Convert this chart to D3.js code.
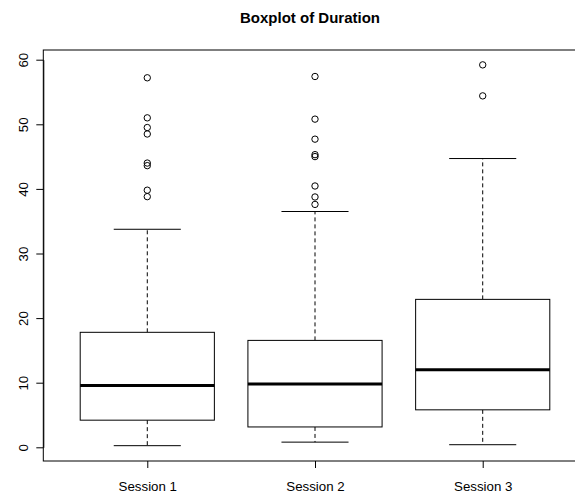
<!DOCTYPE html>
<html>
<head>
<meta charset="utf-8">
<script src="https://cdn.jsdelivr.net/npm/d3@7"></script>
<style>
  body { margin: 0; background: #fff; }
  text { font-family: "Liberation Sans", Arial, sans-serif; }
</style>
</head>
<body>
<div id="chart"></div>
<script>
// values
var sessions = ["Session 1", "Session 2", "Session 3"];
var lowWhisker = [0.25, 0.8, 0.4];
var q1 = [4.2, 3.15, 5.8];
var median = [9.55, 9.8, 12.0];
var q3 = [17.8, 16.55, 22.9];
var highWhisker = [33.75, 36.5, 44.7];
var outliers = [
  [57.2, 51.0, 49.5, 48.5, 44.0, 43.6, 39.8, 38.8],
  [57.4, 50.8, 47.7, 45.3, 45.0, 40.45, 38.75, 37.6],
  [59.2, 54.4]
];
var yTicks = [0, 10, 20, 30, 40, 50, 60];

var svgWidth = 575;
var svgHeight = 495;

var svg = d3.select("#chart")
  .append("svg")
  .attr("width", svgWidth)
  .attr("height", svgHeight);

// plot region (R style: xlim 0.5..3.5 with 4% extension)
var plotLeft = 43.3, plotRight = 586.7, plotTop = 50, plotBottom = 461;

var x = d3.scaleLinear()
  .domain([0.38, 3.62])
  .range([plotLeft, plotRight]);

var y = d3.scaleLinear()
  .domain([0, 60])
  .range([447.3, 59.7]);

var boxHalf = 0.4;
var capHalf = 0.2;

var g = svg.append("g");

sessions.forEach(function(s, i) {
  var cx = i + 1;

  // whiskers
  g.append("line")
    .attr("x1", x(cx)).attr("x2", x(cx))
    .attr("y1", y(q3[i])).attr("y2", y(highWhisker[i]))
    .attr("stroke", "#000").attr("stroke-dasharray", "4,3");
  g.append("line")
    .attr("x1", x(cx)).attr("x2", x(cx))
    .attr("y1", y(q1[i])).attr("y2", y(lowWhisker[i]))
    .attr("stroke", "#000").attr("stroke-dasharray", "4,3");

  // caps
  [lowWhisker[i], highWhisker[i]].forEach(function(v) {
    g.append("line")
      .attr("x1", x(cx - capHalf)).attr("x2", x(cx + capHalf))
      .attr("y1", y(v)).attr("y2", y(v))
      .attr("stroke", "#000");
  });

  // box
  g.append("rect")
    .attr("x", x(cx - boxHalf))
    .attr("y", y(q3[i]))
    .attr("width", x(cx + boxHalf) - x(cx - boxHalf))
    .attr("height", y(q1[i]) - y(q3[i]))
    .attr("fill", "#fff")
    .attr("stroke", "#000");

  // median
  g.append("line")
    .attr("x1", x(cx - boxHalf)).attr("x2", x(cx + boxHalf))
    .attr("y1", y(median[i])).attr("y2", y(median[i]))
    .attr("stroke", "#000").attr("stroke-width", 3);

  // outliers
  g.selectAll(".out" + i)
    .data(outliers[i])
    .enter()
    .append("circle")
    .attr("cx", x(cx))
    .attr("cy", d => y(d))
    .attr("r", 3.2)
    .attr("fill", "none")
    .attr("stroke", "#000");
});

// frame
svg.append("rect")
  .attr("x", plotLeft).attr("y", plotTop)
  .attr("width", plotRight - plotLeft)
  .attr("height", plotBottom - plotTop)
  .attr("fill", "none")
  .attr("stroke", "#000");

// y axis
var yAxis = svg.append("g")
  .attr("transform", `translate(${plotLeft}, 0)`)
  .call(d3.axisLeft(y).tickValues(yTicks).tickSize(7).tickSizeOuter(0));
yAxis.selectAll("text")
  .attr("transform", "rotate(-90)")
  .attr("x", 0)
  .attr("y", -15.5)
  .attr("dy", 0)
  .attr("text-anchor", "middle")
  .attr("font-size", "13.3px")
  .attr("fill", "#000");

// x axis
var xAxis = svg.append("g")
  .attr("transform", `translate(0, ${plotBottom})`)
  .call(d3.axisBottom(x).tickValues([1, 2, 3]).tickSize(7).tickSizeOuter(0)
    .tickFormat((d, i) => sessions[i]));
xAxis.select(".domain").remove();
xAxis.selectAll("text")
  .attr("y", 30)
  .attr("dy", 0)
  .attr("font-size", "13.3px")
  .attr("fill", "#000");

svg.selectAll(".tick line").attr("stroke", "#000");
svg.selectAll(".domain").attr("stroke", "#000");

// title
svg.append("text")
  .attr("x", 310)
  .attr("y", 23)
  .attr("text-anchor", "middle")
  .attr("font-size", "15px")
  .attr("font-weight", "bold")
  .text("Boxplot of Duration");
</script>
</body>
</html>
